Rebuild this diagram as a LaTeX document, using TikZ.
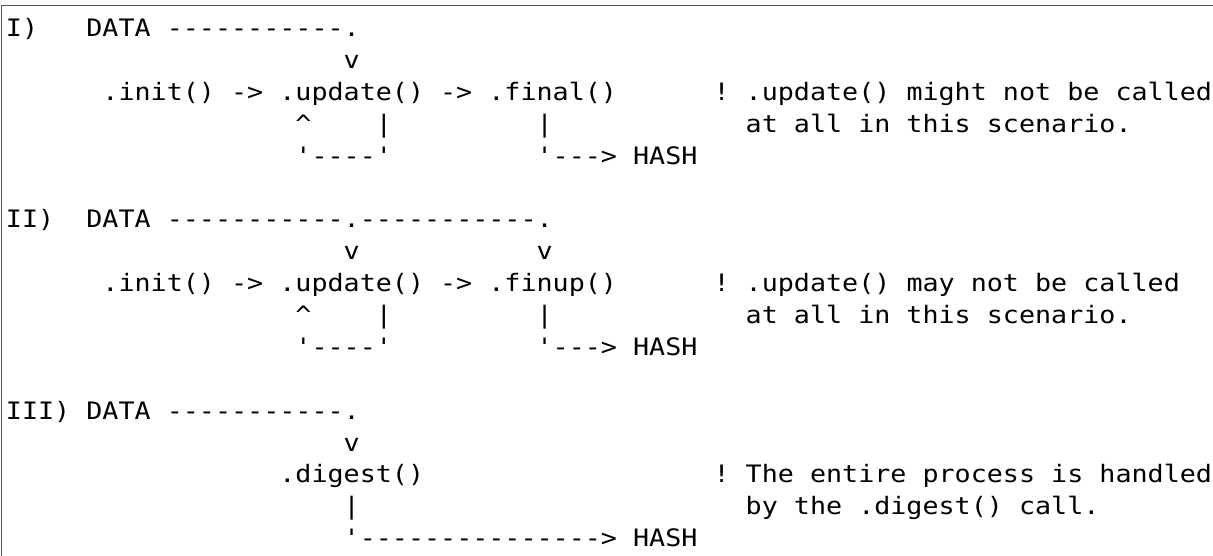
\documentclass[tikz,border=0pt]{standalone}
\usepackage{fontspec}
\setmonofont{DejaVu Sans Mono}[FakeStretch=1.113]
\tikzset{
  code/.style={anchor=base west, inner sep=0pt, outer sep=0pt,
    font=\ttfamily\fontsize{18pt}{24pt}\selectfont, text=black},
  frameline/.style={draw=black!68, line width=1pt},
}
% place text on the character grid: name, column, row, text
\newcommand\ascii[4]{\node[code] (#1) at ({6+#2*16.08},{36.7+(#3-1)*31.875}) {#4};}
\begin{document}
\begin{tikzpicture}[x=0.75pt,y=-0.75pt]
\useasboundingbox (0,0) rectangle (1213,556);
\draw[frameline] (1213,5.5) -- (1.8,5.5) -- (1.8,556);

% scenario I
\ascii{labA}{0}{1}{I)}
\ascii{dataA}{5}{1}{DATA}
\ascii{feedA}{10}{1}{-----------.}
\ascii{downA}{21}{2}{v}
\ascii{initA}{6}{3}{.init()}
\ascii{toA}{14}{3}{->}
\ascii{updateA}{17}{3}{.update()}
\ascii{nextA}{27}{3}{->}
\ascii{finalA}{30}{3}{.final()}
\ascii{noteA}{44}{3}{! .update() might not be called}
\ascii{upA}{18}{4}{\textasciicircum}
\ascii{barA}{23}{4}{|}
\ascii{finbarA}{33}{4}{|}
\ascii{noteAb}{46}{4}{at all in this scenario.}
\ascii{loopA}{18}{5}{'----'}
\ascii{outA}{33}{5}{'--->}
\ascii{hashA}{39}{5}{HASH}

% scenario II
\ascii{labB}{0}{7}{II)}
\ascii{dataB}{5}{7}{DATA}
\ascii{feedB}{10}{7}{-----------.-----------.}
\ascii{downB}{21}{8}{v}
\ascii{downBb}{33}{8}{v}
\ascii{initB}{6}{9}{.init()}
\ascii{toB}{14}{9}{->}
\ascii{updateB}{17}{9}{.update()}
\ascii{nextB}{27}{9}{->}
\ascii{finupB}{30}{9}{.finup()}
\ascii{noteB}{44}{9}{! .update() may not be called}
\ascii{upB}{18}{10}{\textasciicircum}
\ascii{barB}{23}{10}{|}
\ascii{finbarB}{33}{10}{|}
\ascii{noteBb}{46}{10}{at all in this scenario.}
\ascii{loopB}{18}{11}{'----'}
\ascii{outB}{33}{11}{'--->}
\ascii{hashB}{39}{11}{HASH}

% scenario III
\ascii{labC}{0}{13}{III)}
\ascii{dataC}{5}{13}{DATA}
\ascii{feedC}{10}{13}{-----------.}
\ascii{downC}{21}{14}{v}
\ascii{digestC}{17}{15}{.digest()}
\ascii{noteC}{44}{15}{! The entire process is handled}
\ascii{barC}{21}{16}{|}
\ascii{noteCb}{46}{16}{by the .digest() call.}
\ascii{outC}{21}{17}{'--------------->}
\ascii{hashC}{39}{17}{HASH}
\end{tikzpicture}
\end{document}
